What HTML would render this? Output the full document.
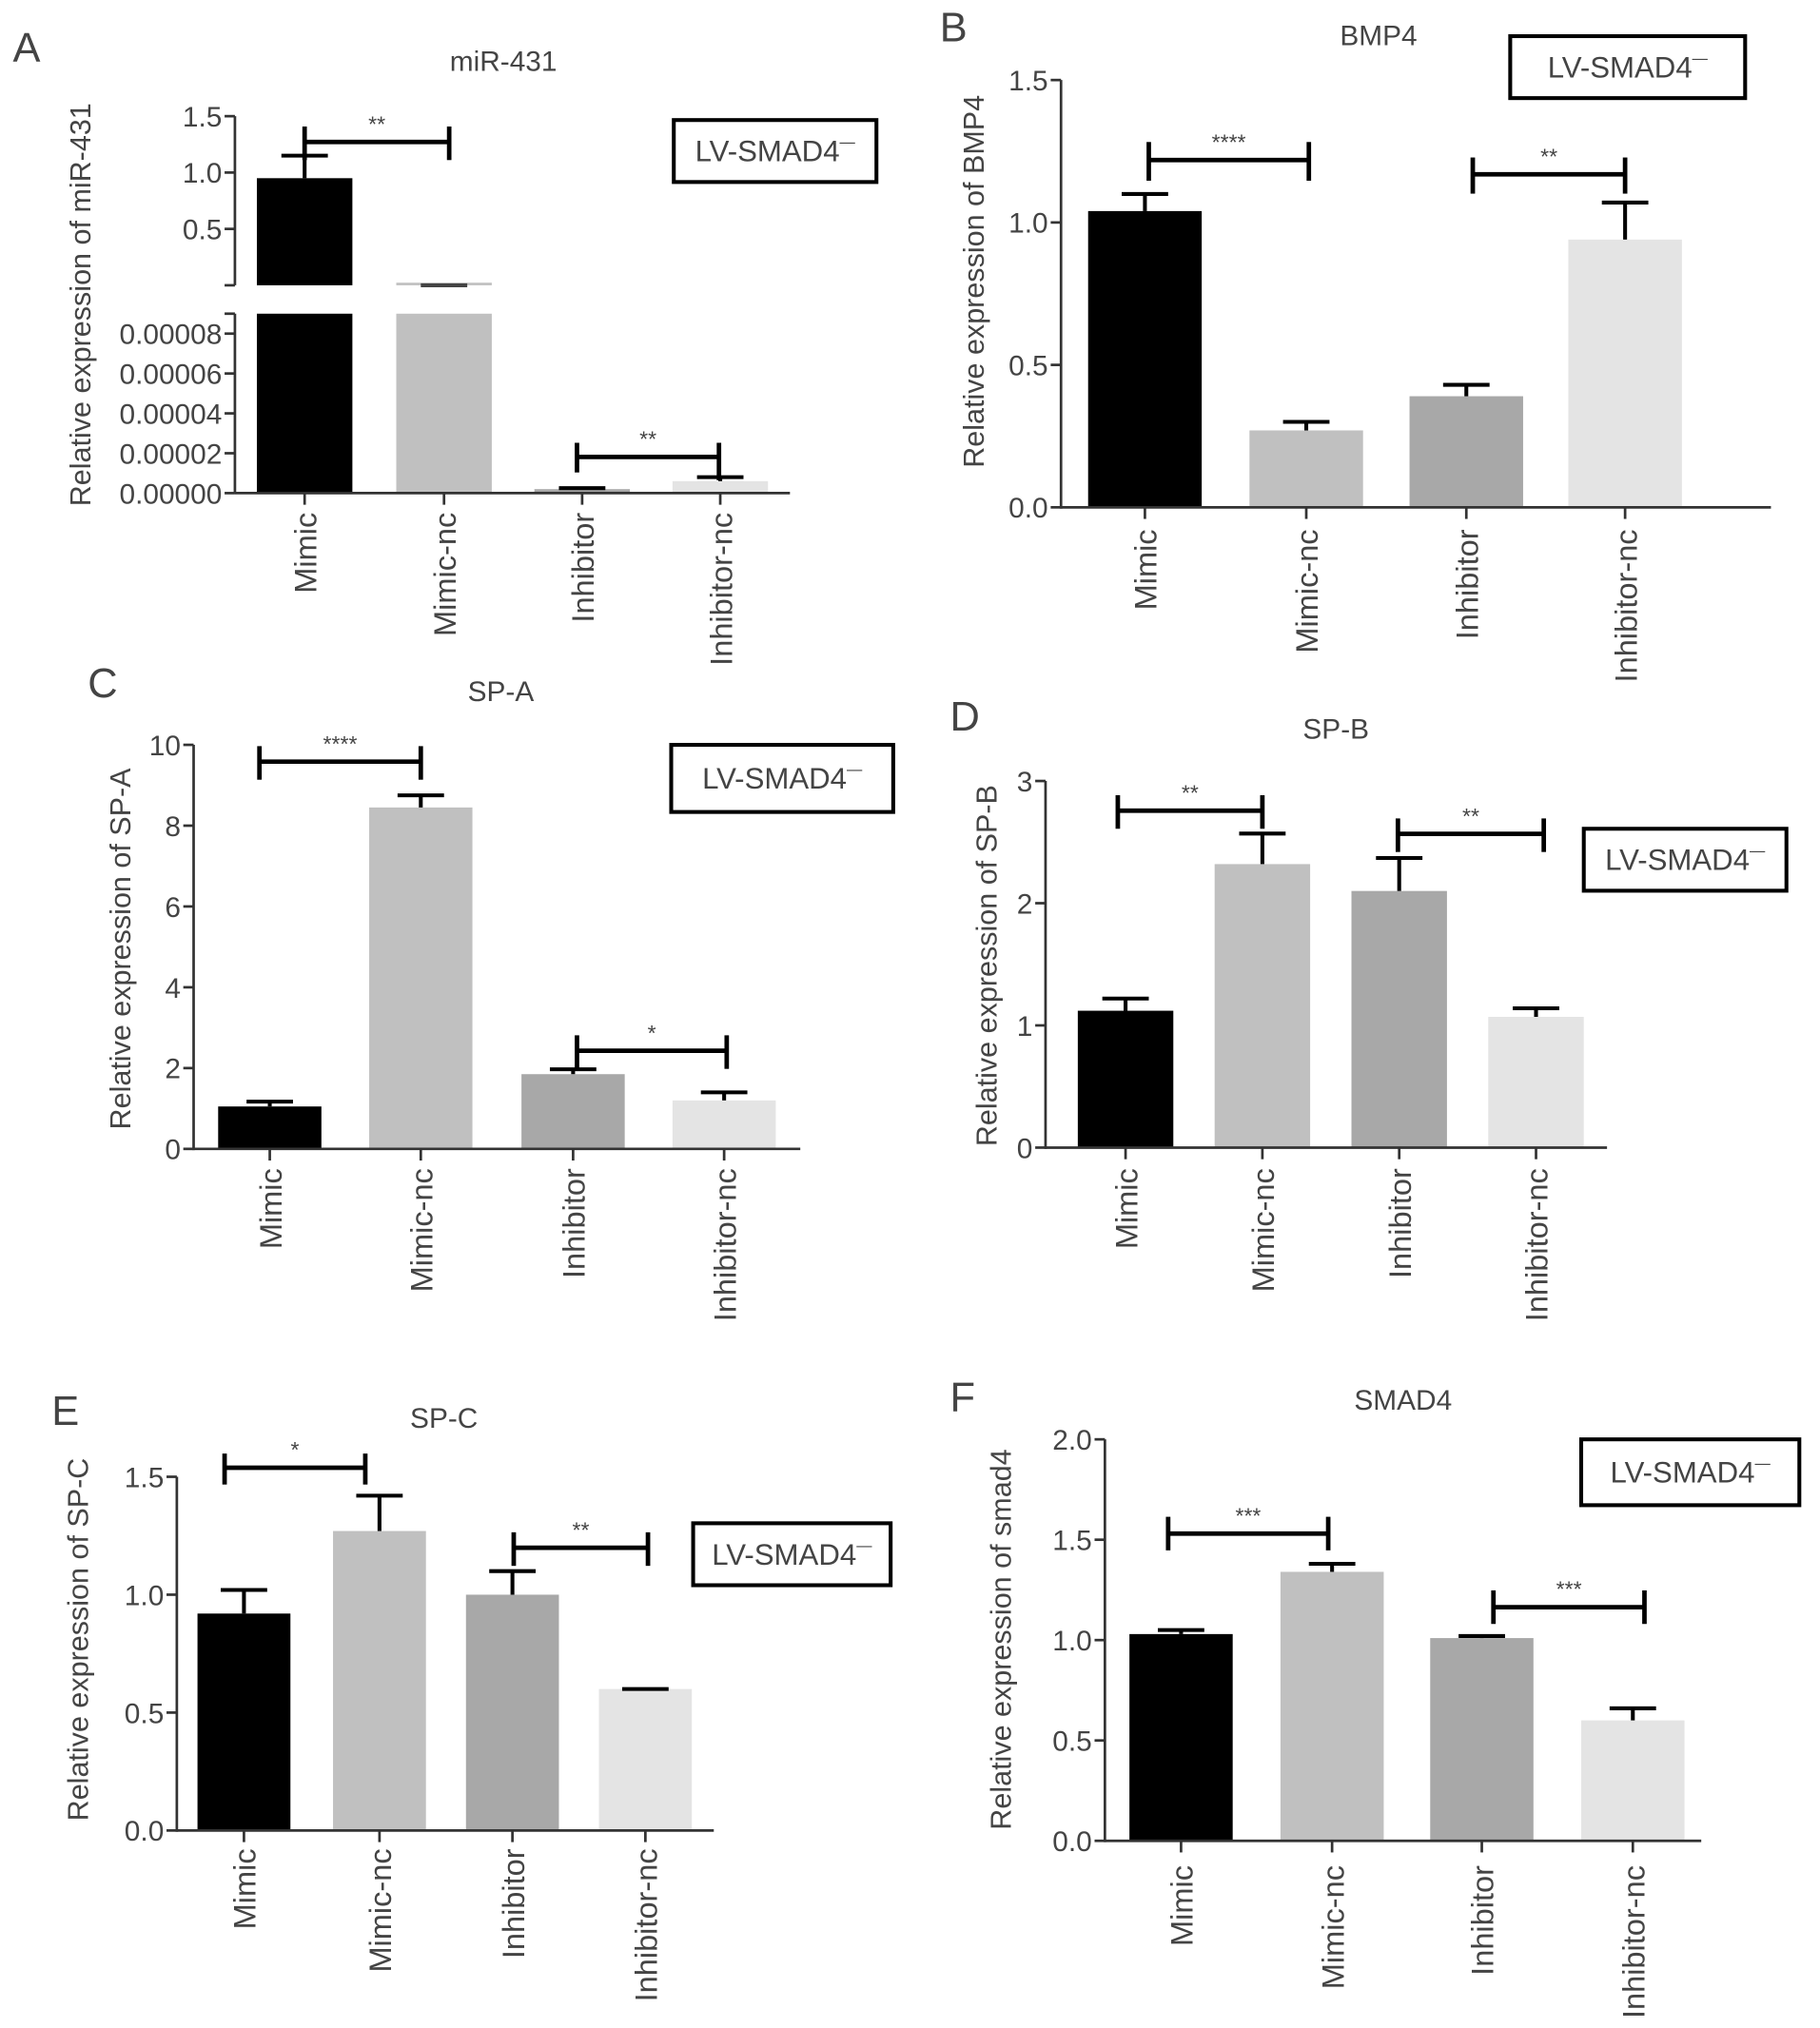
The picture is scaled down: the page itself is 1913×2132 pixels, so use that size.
<!DOCTYPE html>
<html><head><meta charset="utf-8"><style>
html,body{margin:0;padding:0;background:#fff}
svg{display:block}
text{font-family:"Liberation Sans",sans-serif;fill:#444}
</style></head><body>
<svg id="fig" width="1913" height="2132" viewBox="0 0 1410 1571" preserveAspectRatio="none" xmlns="http://www.w3.org/2000/svg"></svg>
<script>
const categories = ["Mimic","Mimic-nc","Inhibitor","Inhibitor-nc"];
const colors = ["#000000","#c0c0c0","#a8a8a8","#e4e4e4"];
// panel B-F values
const bmp4Values = [1.04,0.27,0.39,0.94];
const bmp4Err = [1.10,0.30,0.43,1.07];
const spaValues = [1.05,8.45,1.85,1.2];
const spaErr = [1.17,8.75,1.97,1.4];
const spbValues = [1.12,2.32,2.1,1.07];
const spbErr = [1.22,2.57,2.37,1.14];
const spcValues = [0.92,1.27,1.0,0.6];
const spcErr = [1.02,1.42,1.1,0.6];
const smadValues = [1.03,1.34,1.01,0.6];
const smadErr = [1.05,1.38,1.02,0.66];
// panel A (broken axis)
const mirUpperValues = [0.95,0.0,0,0];
const mirUpperErr = [1.15,0.0,0,0];
const mirLowerValues = [0.00009,0.00009,0.000002,0.000006];
const mirLowerErr = [0.00009,0.00009,0.0000025,0.000008];

const NS="http://www.w3.org/2000/svg";
const svg=document.getElementById('fig');
function mk(tag,attrs,parent,txt){const e=document.createElementNS(NS,tag);for(const k in attrs)e.setAttribute(k,attrs[k]);if(txt!==undefined)e.textContent=txt;(parent||svg).appendChild(e);return e;}
function group(name){const g=mk('g',{});return g;}

function legend(g,x,y,w,h){
  const lg=mk('g',{},g);
  
  
  mk('rect',{x:x,y:y,width:w,height:h,fill:'none',stroke:'#000','stroke-width':3},lg);
  const t=mk('text',{x:x+w/2,y:y+h/2+8,'text-anchor':'middle','font-size':23},lg);
  t.appendChild(document.createTextNode('LV-SMAD4'));
  const s=document.createElementNS(NS,'tspan');s.setAttribute('dy','-11');s.setAttribute('font-size','12');s.textContent='\u2014';t.appendChild(s);
}
function bracket(g,x1,x2,y,l1,l2,r1,r2,stars){
  const b=mk('g',{stroke:'#000','stroke-width':3.5},g);
  
  
  mk('line',{x1:x1,x2:x2,y1:y,y2:y},b);
  mk('line',{x1:x1,x2:x1,y1:l1,y2:l2},b);
  mk('line',{x1:x2,x2:x2,y1:r1,y2:r2},b);
  const t=mk('text',{x:(x1+x2)/2,y:y-8,'text-anchor':'middle','font-size':17,stroke:'none'},g,stars);
  
  
}
function xLabels(g,centers,y0,axisY){
  categories.forEach((c,i)=>{
    mk('line',{x1:centers[i],x2:centers[i],y1:axisY,y2:axisY+9,stroke:'#333','stroke-width':2},g);
    const t=mk('text',{x:centers[i]+9,y:y0,'text-anchor':'end','font-size':24,transform:`rotate(-90 ${centers[i]+9} ${y0})`},g,c);
    
    
  });
}
function panel(o){
  const g=group(o.name);
  const sy=v=>o.y0-(v/o.max)*(o.y0-o.yTop);
  mk('text',{x:o.letter[1],y:o.letter[2],'font-size':32,fill:'#222'},g,o.letter[0]);
  mk('text',{x:o.title[1],y:o.title[2],'text-anchor':'middle','font-size':22},g,o.title[0]);
  const yl=mk('text',{x:o.ylab[1],y:o.ylab[2],'text-anchor':'middle','font-size':22.5,transform:`rotate(-90 ${o.ylab[1]} ${o.ylab[2]})`},g,o.ylab[0]);
  
  o.values.forEach((v,i)=>{
    const cx=o.centers[i];
    const r=mk('rect',{x:cx-o.bw/2,y:sy(v),width:o.bw,height:o.y0-sy(v),fill:colors[i]},g);
    
    
    const e=mk('g',{stroke:'#000','stroke-width':3},g);
    
    
    mk('line',{x1:cx,x2:cx,y1:sy(v),y2:sy(o.err[i])},e);
    mk('line',{x1:cx-18,x2:cx+18,y1:sy(o.err[i]),y2:sy(o.err[i])},e);
  });
  mk('line',{x1:o.ax,x2:o.ax,y1:o.yTop,y2:o.y0+1,stroke:'#333','stroke-width':2},g);
  mk('line',{x1:o.ax,x2:o.xEnd,y1:o.y0,y2:o.y0,stroke:'#333','stroke-width':2},g);
  o.ticks.forEach((t,i)=>{
    const y=sy(t);
    mk('line',{x1:o.ax-8,x2:o.ax,y1:y,y2:y,stroke:'#333','stroke-width':2},g);
    const tl=mk('text',{x:o.ax-10,y:y+8,'text-anchor':'end','font-size':22},g,o.tickLabels[i]);
    
    
  });
  xLabels(g,o.centers,o.xlabY,o.y0);
  legend(g,...o.legend);
  o.brackets.forEach(b=>bracket(g,...b));
}

(function(){
  const g=group('panel-a');
  const ax=182,up0=221,upTop=90,upMax=1.5,lo0=382,loTop=243,loMax=0.00009;
  const syU=v=>up0-(v/upMax)*(up0-upTop);
  const syL=v=>lo0-(v/loMax)*(lo0-loTop);
  const centers=[236,344,451,558],bw=74;
  mk('text',{x:10,y:48,'font-size':32,fill:'#222'},g,'A');
  mk('text',{x:390,y:55,'text-anchor':'middle','font-size':22},g,'miR-431');
  mk('text',{x:70,y:236,'text-anchor':'middle','font-size':22.5,transform:'rotate(-90 70 236)'},g,'Relative expression of miR-431');
  mirLowerValues.forEach((v,i)=>{
    const cx=centers[i];
    const r=mk('rect',{x:cx-bw/2,y:syL(v),width:bw,height:lo0-syL(v),fill:colors[i]},g);
    
    
    if(i>=2){
      const e=mk('g',{stroke:'#000','stroke-width':3},g);
      
      
      mk('line',{x1:cx,x2:cx,y1:syL(v),y2:syL(mirLowerErr[i])},e);
      mk('line',{x1:cx-18,x2:cx+18,y1:syL(mirLowerErr[i]),y2:syL(mirLowerErr[i])},e);
    }
  });
  mirUpperValues.forEach((v,i)=>{
    if(i>=2)return;
    const cx=centers[i];
    const h=Math.max(up0-syU(v),2);
    const r=mk('rect',{x:cx-bw/2,y:up0-h,width:bw,height:h,fill:colors[i]},g);
    
    
    const e=mk('g',{stroke:i==0?'#000':'#444','stroke-width':3},g);
    
    
    mk('line',{x1:cx,x2:cx,y1:syU(v),y2:syU(mirUpperErr[i])},e);
    mk('line',{x1:cx-18,x2:cx+18,y1:syU(mirUpperErr[i]),y2:syU(mirUpperErr[i])},e);
  });
  mk('line',{x1:ax,x2:ax,y1:upTop,y2:up0,stroke:'#333','stroke-width':2},g);
  mk('line',{x1:ax,x2:ax,y1:loTop,y2:lo0,stroke:'#333','stroke-width':2},g);
  mk('line',{x1:ax-8,x2:ax,y1:up0,y2:up0,stroke:'#333','stroke-width':2},g);
  mk('line',{x1:ax-8,x2:ax,y1:loTop,y2:loTop,stroke:'#333','stroke-width':2},g);
  mk('line',{x1:ax,x2:612,y1:lo0,y2:lo0,stroke:'#333','stroke-width':2},g);
  const upTicks=[0.5,1.0,1.5],upLabels=['0.5','1.0','1.5'];
  upTicks.forEach((t,i)=>{const y=syU(t);mk('line',{x1:ax-8,x2:ax,y1:y,y2:y,stroke:'#333','stroke-width':2},g);
    const tl=mk('text',{x:ax-10,y:y+8,'text-anchor':'end','font-size':22},g,upLabels[i]);});
  const loTicks=[0,0.00002,0.00004,0.00006,0.00008],loLabels=['0.00000','0.00002','0.00004','0.00006','0.00008'];
  loTicks.forEach((t,i)=>{const y=syL(t);mk('line',{x1:ax-8,x2:ax,y1:y,y2:y,stroke:'#333','stroke-width':2},g);
    const tl=mk('text',{x:ax-10,y:y+8,'text-anchor':'end','font-size':22},g,loLabels[i]);});
  xLabels(g,centers,397,lo0);
  legend(g,522,93,157,48);
  bracket(g,236,348,110,98,124,98,124,'**');
  bracket(g,447,557,354,343,366,343,372,'**');
})();

panel({name:'panel-b',letter:['B',728,32],title:['BMP4',1068,35],ylab:['Relative expression of BMP4',762,218],
  ax:822,y0:393,yTop:62,max:1.5,xEnd:1372,centers:[887,1012,1136,1259],bw:88,
  values:bmp4Values,err:bmp4Err,ticks:[0,0.5,1.0,1.5],tickLabels:['0.0','0.5','1.0','1.5'],xlabY:410,
  legend:[1170,28,182,48],brackets:[[890,1014,124,110,140,110,140,'****'],[1141,1259,135,122,150,122,150,'**']]});
panel({name:'panel-c',letter:['C',68,540],title:['SP-A',388,543],ylab:['Relative expression of SP-A',101,735],
  ax:150,y0:890,yTop:577,max:10,xEnd:620,centers:[209,326,444,561],bw:80,
  values:spaValues,err:spaErr,ticks:[0,2,4,6,8,10],tickLabels:['0','2','4','6','8','10'],xlabY:905,
  legend:[520,577,172,52],brackets:[[201,326,590,578,604,578,604,'****'],[447,563,814,802,828,802,828,'*']]});
panel({name:'panel-d',letter:['D',736,566],title:['SP-B',1035,572],ylab:['Relative expression of SP-B',772,748],
  ax:810,y0:889,yTop:605,max:3,xEnd:1245,centers:[872,978,1084,1190],bw:74,
  values:spbValues,err:spbErr,ticks:[0,1,2,3],tickLabels:['0','1','2','3'],xlabY:905,
  legend:[1227,642,157,48],brackets:[[866,978,628,616,642,616,642,'**'],[1083,1196,646,634,660,634,660,'**']]});
panel({name:'panel-e',letter:['E',40,1104],title:['SP-C',344,1106],ylab:['Relative expression of SP-C',68,1270],
  ax:137,y0:1418,yTop:1144,max:1.5,xEnd:553,centers:[189,294,397,500],bw:72,
  values:spcValues,err:spcErr,ticks:[0,0.5,1.0,1.5],tickLabels:['0.0','0.5','1.0','1.5'],xlabY:1432,
  legend:[537,1180,153,48],brackets:[[174,283,1137,1126,1150,1126,1150,'*'],[398,502,1199,1187,1213,1187,1213,'**']]});
panel({name:'panel-f',letter:['F',736,1093],title:['SMAD4',1087,1092],ylab:['Relative expression of smad4',783,1270],
  ax:856,y0:1426,yTop:1115,max:2.0,xEnd:1318,centers:[915,1032,1148,1265],bw:80,
  values:smadValues,err:smadErr,ticks:[0,0.5,1.0,1.5,2.0],tickLabels:['0.0','0.5','1.0','1.5','2.0'],xlabY:1445,
  legend:[1225,1115,169,51],brackets:[[905,1029,1188,1175,1201,1175,1201,'***'],[1157,1274,1245,1232,1258,1232,1258,'***']]});
</script>
</body></html>
